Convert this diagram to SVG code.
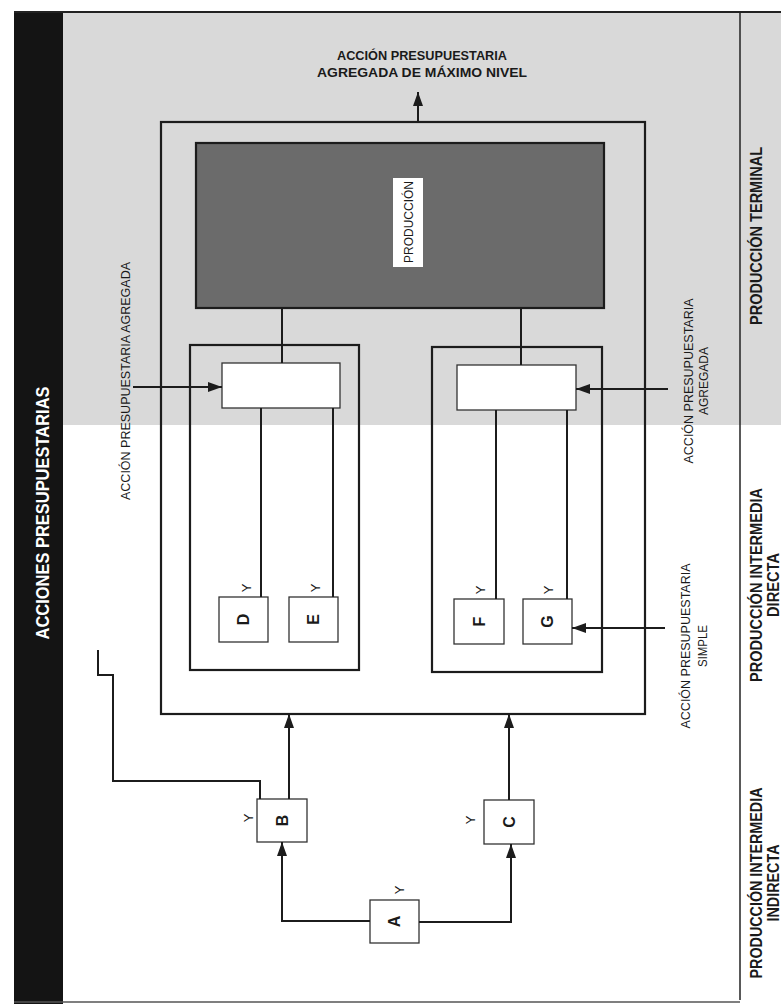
<svg xmlns="http://www.w3.org/2000/svg" width="781" height="1005" viewBox="0 0 781 1005">
<defs>
<style>
.t{font-family:"Liberation Sans",Arial,sans-serif;fill:#1a1a1a}
.b{font-weight:bold}
.w{fill:#ffffff}
.frame{fill:none;stroke:#1c1c1c;stroke-width:2.2}
.sbox{fill:#ffffff;stroke:#333333;stroke-width:1.3}
.conn{fill:none;stroke:#1c1c1c;stroke-width:2}
.arr{marker-end:url(#ah)}
</style>
<marker id="ah" markerUnits="userSpaceOnUse" markerWidth="14" markerHeight="10" refX="14" refY="5" orient="auto"><path d="M0,0 L14,5 L0,10 z" fill="#1c1c1c"/></marker>
</defs>
<rect width="781" height="1005" fill="#ffffff"/>
<rect x="63" y="12" width="718" height="413" fill="#d9d9d9"/>
<rect x="14" y="11" width="49" height="993" fill="#141414"/>
<line x1="14" y1="12" x2="781" y2="12" stroke="#222" stroke-width="2"/>
<line x1="14" y1="1002" x2="740" y2="1002" stroke="#555" stroke-width="1.5"/>
<line x1="740" y1="12" x2="740" y2="1000" stroke="#222" stroke-width="1.5"/>
<text class="t b w" transform="translate(48.5,513) rotate(-90)" text-anchor="middle" font-size="18" textLength="253" lengthAdjust="spacingAndGlyphs">ACCIONES PRESUPUESTARIAS</text>

<g id="outer"><rect class="frame" x="161" y="122" width="484" height="592"/></g>
<g id="produccion">
<rect x="196" y="143" width="408" height="165" fill="#6b6b6b" stroke="#1c1c1c" stroke-width="2.2"/>
<rect x="393" y="178" width="30" height="89" fill="#ffffff"/>
<text class="t" transform="translate(413,222) rotate(-90)" text-anchor="middle" font-size="13" textLength="82" lengthAdjust="spacingAndGlyphs">PRODUCCIÓN</text>
</g>
<g id="grupo1"><rect class="frame" x="190" y="345" width="169" height="325"/></g>
<g id="grupo2"><rect class="frame" x="432" y="347" width="170" height="325"/></g>
<g id="agregada1"><rect class="sbox" x="222" y="363" width="118" height="45"/></g>
<g id="agregada2"><rect class="sbox" x="457" y="365" width="119" height="45"/></g>

<g id="nodeD"><rect class="sbox" x="219" y="597" width="49" height="45"/>
<text class="t b" transform="translate(249.2,619.5) rotate(-90)" text-anchor="middle" font-size="16">D</text>
<text class="t" transform="translate(250.7,588) rotate(-90)" text-anchor="middle" font-size="13">Y</text></g>
<g id="nodeE"><rect class="sbox" x="289" y="597" width="49" height="45"/>
<text class="t b" transform="translate(319.2,619.5) rotate(-90)" text-anchor="middle" font-size="16">E</text>
<text class="t" transform="translate(319.7,588) rotate(-90)" text-anchor="middle" font-size="13">Y</text></g>
<g id="nodeF"><rect class="sbox" x="454" y="599" width="50" height="45"/>
<text class="t b" transform="translate(484.7,621.5) rotate(-90)" text-anchor="middle" font-size="16">F</text>
<text class="t" transform="translate(484.7,590) rotate(-90)" text-anchor="middle" font-size="13">Y</text></g>
<g id="nodeG"><rect class="sbox" x="523" y="599" width="49" height="45"/>
<text class="t b" transform="translate(553.2,621.5) rotate(-90)" text-anchor="middle" font-size="16">G</text>
<text class="t" transform="translate(552.7,590) rotate(-90)" text-anchor="middle" font-size="13">Y</text></g>
<g id="nodeB"><rect class="sbox" x="257" y="799" width="50" height="43"/>
<text class="t b" transform="translate(287.7,820.5) rotate(-90)" text-anchor="middle" font-size="16">B</text>
<text class="t" transform="translate(252.7,818) rotate(-90)" text-anchor="middle" font-size="13">Y</text></g>
<g id="nodeC"><rect class="sbox" x="484" y="800" width="50" height="44"/>
<text class="t b" transform="translate(514.7,822) rotate(-90)" text-anchor="middle" font-size="16">C</text>
<text class="t" transform="translate(474.7,820) rotate(-90)" text-anchor="middle" font-size="13">Y</text></g>
<g id="nodeA"><rect class="sbox" x="370" y="900" width="49" height="43"/>
<text class="t b" transform="translate(400.2,921.5) rotate(-90)" text-anchor="middle" font-size="16">A</text>
<text class="t" transform="translate(403.7,890) rotate(-90)" text-anchor="middle" font-size="13">Y</text></g>

<g id="connectors">
<path class="conn arr" d="M418,122 V92"/>
<path class="conn" d="M282,308 V363"/>
<path class="conn" d="M521,308 V365"/>
<path class="conn" d="M261,408 V597"/>
<path class="conn" d="M333,408 V597"/>
<path class="conn" d="M496,410 V599"/>
<path class="conn" d="M567,410 V599"/>
<path class="conn arr" d="M133,387 H222"/>
<path class="conn arr" d="M668,389 H576"/>
<path class="conn arr" d="M665,628 H572"/>
<path class="conn arr" d="M289,799 V714"/>
<path class="conn arr" d="M509,800 V714"/>
<path class="conn arr" d="M370,921 H282 V842"/>
<path class="conn arr" d="M419,922 H511 V844"/>
<path class="conn" d="M98,650 V675 H113 V781 H260 V799"/>
</g>

<g id="labels">
<text class="t b" x="422" y="59.5" text-anchor="middle" font-size="13" textLength="170" lengthAdjust="spacingAndGlyphs">ACCIÓN PRESUPUESTARIA</text>
<text class="t b" x="422" y="76.5" text-anchor="middle" font-size="13" textLength="210" lengthAdjust="spacingAndGlyphs">AGREGADA DE MÁXIMO NIVEL</text>
<text class="t" transform="translate(129.5,381) rotate(-90)" text-anchor="middle" font-size="13" textLength="238" lengthAdjust="spacingAndGlyphs">ACCIÓN PRESUPUESTARIA AGREGADA</text>
<text class="t" transform="translate(693,381) rotate(-90)" text-anchor="middle" font-size="13" textLength="165" lengthAdjust="spacingAndGlyphs">ACCIÓN PRESUPUESTARIA</text>
<text class="t" transform="translate(707.5,381) rotate(-90)" text-anchor="middle" font-size="13" textLength="68" lengthAdjust="spacingAndGlyphs">AGREGADA</text>
<text class="t" transform="translate(690,646) rotate(-90)" text-anchor="middle" font-size="13" textLength="165" lengthAdjust="spacingAndGlyphs">ACCIÓN PRESUPUESTARIA</text>
<text class="t" transform="translate(706.5,646) rotate(-90)" text-anchor="middle" font-size="13" textLength="42" lengthAdjust="spacingAndGlyphs">SIMPLE</text>
<text class="t b" transform="translate(762,236) rotate(-90)" text-anchor="middle" font-size="17" textLength="178" lengthAdjust="spacingAndGlyphs">PRODUCCIÓN TERMINAL</text>
<text class="t b" transform="translate(762,585) rotate(-90)" text-anchor="middle" font-size="17" textLength="194" lengthAdjust="spacingAndGlyphs">PRODUCCIÓN INTERMEDIA</text>
<text class="t b" transform="translate(779,585) rotate(-90)" text-anchor="middle" font-size="17" textLength="64" lengthAdjust="spacingAndGlyphs">DIRECTA</text>
<text class="t b" transform="translate(762,883) rotate(-90)" text-anchor="middle" font-size="17" textLength="191" lengthAdjust="spacingAndGlyphs">PRODUCCIÓN INTERMEDIA</text>
<text class="t b" transform="translate(779,883) rotate(-90)" text-anchor="middle" font-size="17" textLength="77" lengthAdjust="spacingAndGlyphs">INDIRECTA</text>
</g>
</svg>
